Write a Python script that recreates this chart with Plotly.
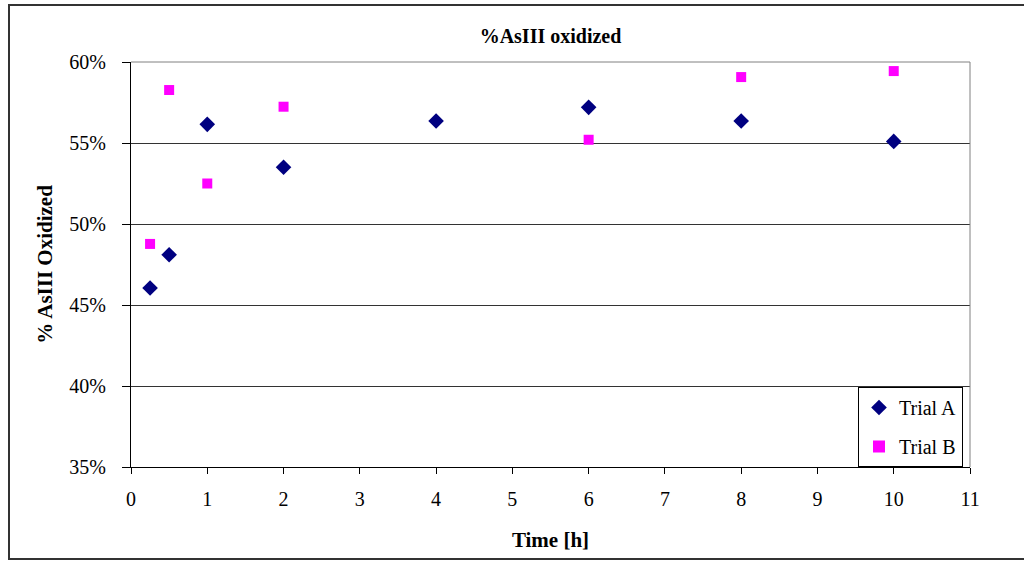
import plotly.graph_objects as go

# Sampling times (hours) and fraction of As(III) oxidized for each trial
time_a = [0.25, 0.5, 1, 2, 4, 6, 8, 10]
trial_a = [0.4605, 0.481, 0.5615, 0.535, 0.5636, 0.572, 0.5636, 0.551]

time_b = [0.25, 0.5, 1, 2, 6, 8, 10]
trial_b = [0.4877, 0.5827, 0.525, 0.5724, 0.552, 0.5907, 0.5944]

x_ticks = list(range(0, 12))
y_ticks = [0.35, 0.40, 0.45, 0.50, 0.55, 0.60]

serif = "Liberation Serif, Times New Roman, serif"

# plot-area geometry in pixels
L, R, T, B = 131, 54, 62, 94
W, H = 1024, 561
PW, PH = W - L - R, H - T - B

fig = go.Figure()
fig.add_trace(go.Scatter(
    x=time_a, y=trial_a, mode="markers", name="Trial A", legendgroup="a",
    marker=dict(symbol="diamond", size=12, color="#000080"),
))
fig.add_trace(go.Scatter(
    x=time_b, y=trial_b, mode="markers", name="Trial B", legendgroup="b",
    marker=dict(symbol="square", size=10, color="#FF00FF"),
))

fig.update_layout(
    width=W, height=H,
    margin=dict(l=L, r=R, t=T, b=B),
    paper_bgcolor="white", plot_bgcolor="white",
    font=dict(family=serif, size=20, color="black"),
    title=dict(text="<b>%AsIII oxidized</b>", x=0.5, xanchor="center",
               xref="paper", y=1 - 36 / H, yanchor="middle",
               font=dict(family=serif, size=20)),
    showlegend=True,
    legend=dict(x=(858 - L) / PW, y=0.0, xanchor="left", yanchor="bottom",
                xref="paper", yref="paper",
                bordercolor="black", borderwidth=1, bgcolor="white",
                font=dict(family=serif, size=20),
                itemsizing="constant", tracegroupgap=10,
                itemwidth=30, entrywidth=80),
    xaxis=dict(
        range=[0, 11], tickmode="array", tickvals=x_ticks,
        ticks="outside", ticklen=6, tickcolor="black",
        ticklabelstandoff=8,
        showline=True, linecolor="black", linewidth=1, mirror=False,
        showgrid=False, zeroline=False,
        title=dict(text="<b>Time [h]</b>", standoff=23,
                   font=dict(family=serif, size=21)),
    ),
    yaxis=dict(
        range=[0.35, 0.60], tickmode="array", tickvals=y_ticks,
        tickformat=".0%", ticks="outside", ticklen=8, tickcolor="black",
        ticklabelstandoff=12,
        showline=True, linecolor="black", linewidth=1,
        showgrid=True, gridcolor="#333333", gridwidth=1, zeroline=False,
        title=dict(text="<b>% AsIII Oxidized</b>", standoff=10,
                   font=dict(family=serif, size=21)),
    ),
    shapes=[
        # grey top and right edges of the plot area
        dict(type="line", xref="paper", yref="paper", x0=0, x1=1, y0=1, y1=1,
             line=dict(color="#808080", width=1)),
        dict(type="line", xref="paper", yref="paper", x0=1, x1=1, y0=0, y1=1,
             line=dict(color="#808080", width=1)),
        # outer chart frame
        dict(type="rect", xref="paper", yref="paper",
             x0=(9 - L) / PW, x1=(1040 - L) / PW,
             y0=-(559 - T - PH) / PH, y1=1 + (T - 5) / PH,
             line=dict(color="#333333", width=2), layer="below"),
    ],
)

fig.write_html("out.html")
